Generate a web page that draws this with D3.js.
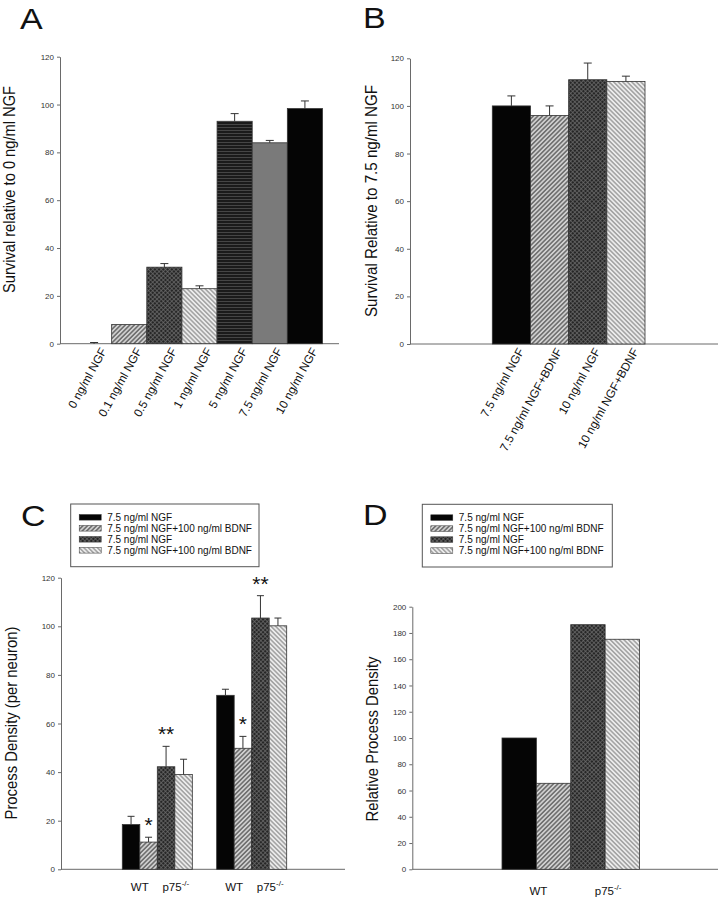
<!DOCTYPE html>
<html><head><meta charset="utf-8">
<script src="https://cdn.jsdelivr.net/npm/d3@7"></script>
<style>body{margin:0;background:#fff}svg{display:block}text{font-family:"Liberation Sans",Arial,sans-serif}</style>
</head><body><svg id="c" width="721" height="900"></svg>
<script>
// ---------- data ----------
const catsA = ["0 ng/ml NGF","0.1 ng/ml NGF","0.5 ng/ml NGF","1 ng/ml NGF","5 ng/ml NGF","7.5 ng/ml NGF","10 ng/ml NGF"];
const valuesA = [0, 8, 32, 23, 93, 84, 98.3];
const errorsA = [0.5, 0, 1.5, 1.2, 3.2, 1, 3.2];
const ticksA = [0,20,40,60,80,100,120];

const catsB = ["7.5 ng/ml NGF","7.5 ng/ml NGF+BDNF","10 ng/ml NGF","10 ng/ml NGF+BDNF"];
const valuesB = [100, 96, 111, 110.3];
const errorsB = [4.2, 4, 7, 2.2];
const ticksB = [0,20,40,60,80,100,120];

const legendC = ["7.5 ng/ml NGF","7.5 ng/ml NGF+100 ng/ml BDNF","7.5 ng/ml NGF","7.5 ng/ml NGF+100 ng/ml BDNF"];
const groupsC = ["Experiment 1","Experiment 2"];
const valuesC = [[18.4, 11.2, 42.2, 39], [71.6, 49.8, 103.4, 100.2]];
const errorsC = [[3.4, 2.0, 8.4, 6.3], [2.5, 4.9, 9.2, 3.2]];
const starsC = [["", "*", "**", ""], ["", "*", "**", ""]];
const ticksC = [0,20,40,60,80,100,120];

const legendD = ["7.5 ng/ml NGF","7.5 ng/ml NGF+100 ng/ml BDNF","7.5 ng/ml NGF","7.5 ng/ml NGF+100 ng/ml BDNF"];
const valuesD = [100, 65.5, 186.3, 175.2];
const ticksD = [0,20,40,60,80,100,120,140,160,180,200];

const genotypeLabels = ["WT", "p75"];

// ---------- styles ----------
const svg = d3.select("#c");
const defs = svg.append("defs");
function hatch(id, angle, bg, fg, gap, w) {
  const p = defs.append("pattern").attr("id", id).attr("patternUnits","userSpaceOnUse")
    .attr("width", gap).attr("height", gap).attr("patternTransform", `rotate(${angle})`);
  p.append("rect").attr("width", gap).attr("height", gap).attr("fill", bg);
  p.append("line").attr("x1", gap/2).attr("x2", gap/2).attr("y1", 0).attr("y2", gap)
    .attr("stroke", fg).attr("stroke-width", w);
}
hatch("fwd", 45, "#d0d0d0", "#4a4a4a", 3.2, 1.15);
hatch("back", -45, "#ececec", "#7a7a7a", 3.2, 1.0);
(function(){
  const g = 3.0;
  const p = defs.append("pattern").attr("id","cross").attr("patternUnits","userSpaceOnUse")
    .attr("width", g).attr("height", g).attr("patternTransform","rotate(45)");
  p.append("rect").attr("width", g).attr("height", g).attr("fill", "#262626");
  p.append("line").attr("x1", g/2).attr("x2", g/2).attr("y1",0).attr("y2",g).attr("stroke","#6e6e6e").attr("stroke-width",0.7);
  p.append("line").attr("y1", g/2).attr("y2", g/2).attr("x1",0).attr("x2",g).attr("stroke","#6e6e6e").attr("stroke-width",0.7);
})();
(function(){
  const p = defs.append("pattern").attr("id","horiz").attr("patternUnits","userSpaceOnUse")
    .attr("width", 4).attr("height", 3);
  p.append("rect").attr("width", 4).attr("height", 3).attr("fill", "#1a1a1a");
  p.append("line").attr("x1",0).attr("x2",4).attr("y1",1.5).attr("y2",1.5).attr("stroke","#4a4a4a").attr("stroke-width",0.9);
})();
const fillOf = {none:"#ffffff", fwd:"url(#fwd)", back:"url(#back)", cross:"url(#cross)", horiz:"url(#horiz)", gray:"#7a7a7a", black:"#050505"};
const styleA = ["none","fwd","cross","back","horiz","gray","black"];
const styleB = ["black","fwd","cross","back"];
const styleC = ["black","fwd","cross","back"];
const AX = "#6a6a6a";

function yAxis(x, yScale, ticks) {
  const g = svg.append("g").attr("transform", `translate(${x},0)`)
    .call(d3.axisLeft(yScale).tickValues(ticks).tickSize(3).tickPadding(3).tickSizeOuter(0));
  g.select(".domain").attr("stroke", AX);
  g.selectAll(".tick line").attr("stroke", AX);
  g.selectAll(".tick text").attr("font-size", 8).attr("fill", "#333")
    .attr("font-family", '"Liberation Sans",Arial,sans-serif');
}
function xLine(x0, x1, y) {
  svg.append("line").attr("x1", x0).attr("x2", x1).attr("y1", y).attr("y2", y)
    .attr("stroke", AX).attr("stroke-width", 1);
}
function yTitle(txt, x, cy, len, fs) {
  svg.append("text").attr("transform", `translate(${x},${cy}) rotate(-90)`)
    .attr("text-anchor","middle").attr("font-size", fs).attr("fill","#111")
    .attr("textLength", len).attr("lengthAdjust","spacingAndGlyphs").text(txt);
}
function panelLetter(t, x, y) {
  svg.append("text").attr("transform", `translate(${x},${y}) scale(1,0.88)`)
    .attr("font-size", 34).attr("fill","#111").text(t);
}
function bars(xs, w, vals, errs, styles, yScale, cap) {
  vals.forEach((v, i) => {
    svg.append("rect").attr("x", xs[i]).attr("y", yScale(v)).attr("width", w)
      .attr("height", yScale(0) - yScale(v)).attr("fill", fillOf[styles[i]])
      .attr("stroke", "#333").attr("stroke-width", 0.8);
  });
  if (errs) errs.forEach((e, i) => {
    if (!e) return;
    const cx = xs[i] + w/2, y0 = yScale(vals[i]), y1 = yScale(vals[i] + e);
    svg.append("line").attr("x1", cx).attr("x2", cx).attr("y1", y0).attr("y2", y1).attr("stroke","#333").attr("stroke-width",1);
    svg.append("line").attr("x1", cx - cap/2).attr("x2", cx + cap/2).attr("y1", y1).attr("y2", y1).attr("stroke","#333").attr("stroke-width",1);
  });
}
function rotLabels(cats, xScale, y0) {
  cats.forEach(c => {
    svg.append("text").attr("transform", `translate(${xScale(c) + xScale.bandwidth()/2 + 13},${y0 + 7}) rotate(-61)`)
      .attr("text-anchor","end").attr("font-size", 11.8).attr("fill","#111").text(c);
  });
}
function legend(items, bx, by, bw, bh) {
  svg.append("rect").attr("x", bx).attr("y", by).attr("width", bw).attr("height", bh)
    .attr("fill","none").attr("stroke","#555").attr("stroke-width",1);
  items.forEach((t, i) => {
    const cy = by + 13.3 + i * 11;
    svg.append("rect").attr("x", bx + 8.5).attr("y", cy - 2.8).attr("width", 22).attr("height", 5.6)
      .attr("fill", fillOf[styleC[i]]).attr("stroke","#333").attr("stroke-width",0.5);
    svg.append("text").attr("x", bx + 36.5).attr("y", cy + 3.6).attr("font-size", 10).attr("fill","#111").text(t);
  });
}
function genoLabel(t, cx, y) {
  const tx = svg.append("text").attr("x", cx).attr("y", y).attr("text-anchor","middle")
    .attr("font-size", 11.5).attr("fill","#111");
  tx.append("tspan").text(t);
  if (t === "p75") tx.append("tspan").attr("font-size", 8).attr("dy", -5).text("-/-");
}

// ---------- Panel A ----------
const yA = d3.scaleLinear().domain([0,120]).range([343.7, 56.7]);
const xA = d3.scaleBand().domain(catsA).range([60, 339]).paddingInner(0).paddingOuter(0.47);
xLine(60, 339, yA(0));
bars(catsA.map(c => xA(c)), xA.bandwidth(), valuesA, errorsA, styleA, yA, 8);
yAxis(60, yA, ticksA);
rotLabels(catsA, xA, yA(0));
yTitle("Survival relative to 0 ng/ml NGF", 15, 189.5, 207, 16.5);
panelLetter("A", 20, 29);

// ---------- Panel B ----------
const yB = d3.scaleLinear().domain([0,120]).range([344, 58.3]);
const xB = d3.scaleBand().domain(catsB).range([492.3, 645]).padding(0);
xLine(410, 718, yB(0));
bars(catsB.map(c => xB(c)), xB.bandwidth(), valuesB, errorsB, styleB, yB, 8);
yAxis(410, yB, ticksB);
rotLabels(catsB, xB, yB(0));
yTitle("Survival Relative to 7.5 ng/ml NGF", 377, 201, 232, 16.5);
panelLetter("B", 363, 28);

// ---------- Panel C ----------
const yC = d3.scaleLinear().domain([0,120]).range([869.3, 577.7]);
const x0C = d3.scaleBand().domain(groupsC).range([122.3, 286.7]).paddingInner(0.258).paddingOuter(0);
const x1C = d3.scaleBand().domain(d3.range(4)).range([0, x0C.bandwidth()]).padding(0);
xLine(61, 345, yC(0));
groupsC.forEach((g, gi) => {
  const xs = d3.range(4).map(i => x0C(g) + x1C(i));
  bars(xs, x1C.bandwidth(), valuesC[gi], errorsC[gi], styleC, yC, 7);
  starsC[gi].forEach((s, i) => {
    if (!s) return;
    svg.append("text").attr("x", xs[i] + x1C.bandwidth()/2).attr("y", yC(valuesC[gi][i] + errorsC[gi][i]) - 5)
      .attr("text-anchor","middle").attr("font-size", 21).attr("fill","#111").text(s);
  });
  genotypeLabels.forEach((t, j) => genoLabel(t, x0C(g) + x1C(2*j + 1) + (j ? 1 : 0), 890.5));
});
yAxis(61, yC, ticksC);
yTitle("Process Density (per neuron)", 17, 723, 193, 16.5);
legend(legendC, 70.7, 504, 188.3, 62.7);
panelLetter("C", 21, 526);

// ---------- Panel D ----------
const yD = d3.scaleLinear().domain([0,200]).range([869.3, 606.7]);
const xD = d3.scaleBand().domain(d3.range(4)).range([502, 639.5]).padding(0);
xLine(412.3, 718, yD(0));
bars(d3.range(4).map(i => xD(i)), xD.bandwidth(), valuesD, null, styleC, yD, 0);
yAxis(412.3, yD, ticksD);
genotypeLabels.forEach((t, j) => genoLabel(t, xD(2*j + 1) + (j ? 3 : 2), 895));
yTitle("Relative Process Density", 378, 739, 165, 16.5);
legend(legendD, 422.3, 504.3, 190, 62.7);
panelLetter("D", 363, 525);
</script>
</body></html>
